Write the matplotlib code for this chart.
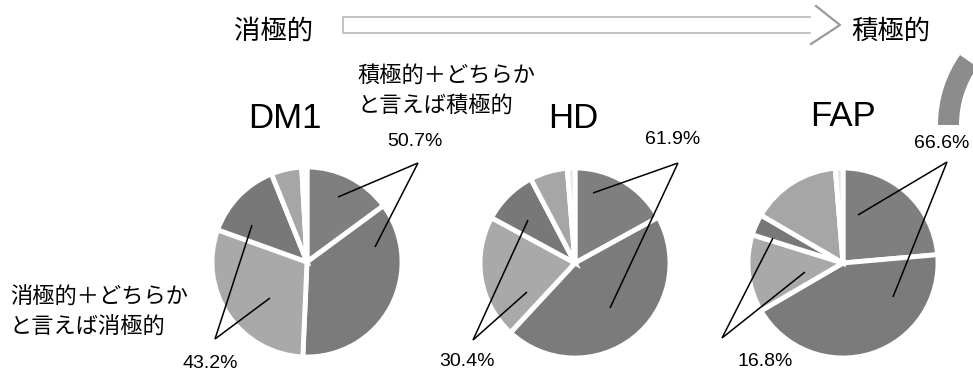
import matplotlib
matplotlib.use("Agg")
import matplotlib.pyplot as plt
from matplotlib.patches import Wedge

W, H = 973, 377

# 回答の内訳(%)  積極的 / どちらかと言えば積極的 / どちらかと言えば消極的 / 消極的 / どちらでもない / 無回答
groups = ['DM1', 'HD', 'FAP']
dm1 = [14.9, 35.8, 29.8, 13.4, 5.2, 0.9]
hd = [17.0, 44.9, 21.0, 9.4, 6.4, 1.3]
fap = [23.6, 43.0, 13.2, 3.6, 15.3, 1.3]
pos_pct = [50.7, 61.9, 66.6]
neg_pct = [43.2, 30.4, 16.8]

colors = ['#7f7f7f', '#7b7b7b', '#a9a9a9', '#787878', '#a6a6a6', '#e6e6e6']

# layout (pixel coords, y measured from top)
centers = [(307, 262), (575, 263), (843, 263)]
radius = 95
title_xy = [(285, 118), (573, 118), (843, 116)]
pos_label = [(415, 142), (673, 140), (942, 143)]
pos_apex = [(418, 163), (678, 163), (947, 162)]
pos_ends = [[(338, 197), (375, 247)], [(593, 193), (610, 308)], [(858, 215), (893, 297)]]
neg_label = [(210, 363), (467, 362), (765, 362)]
neg_apex = [(215, 339), (473, 340), (722, 338)]
neg_ends = [[(252, 225), (270, 298)], [(528, 220), (527, 292)], [(773, 238), (805, 272)]]

jp = ['Noto Sans CJK JP', 'DejaVu Sans']
lat = ['Liberation Sans', 'DejaVu Sans']


def p(x, y):
    return x, H - y


fig = plt.figure(figsize=(W / 100, H / 100), dpi=100)
ax = fig.add_axes([0, 0, 1, 1])

for i, vals in enumerate([dm1, hd, fap]):
    ax.pie(vals, colors=colors, startangle=90, counterclock=False,
           center=p(*centers[i]), radius=radius, frame=True,
           wedgeprops=dict(edgecolor='white', linewidth=3.5))
    ax.text(*p(*title_xy[i]), groups[i], fontsize=25, family=lat,
            ha='center', va='center')
    ax.text(*p(*pos_label[i]), f'{pos_pct[i]:.1f}%', fontsize=14, family=lat,
            ha='center', va='center')
    ax.text(*p(*neg_label[i]), f'{neg_pct[i]:.1f}%', fontsize=14, family=lat,
            ha='center', va='center')
    for apex, ends in [(pos_apex[i], pos_ends[i]), (neg_apex[i], neg_ends[i])]:
        for e in ends:
            ax.plot([p(*apex)[0], p(*e)[0]], [p(*apex)[1], p(*e)[1]],
                    color='black', lw=1.1, solid_capstyle='butt')

# 説明ラベル
ax.text(*p(357, 90), '積極的＋どちらか\nと言えば積極的', fontsize=16, family=jp,
        ha='left', va='center', linespacing=1.4)
ax.text(*p(10, 312), '消極的＋どちらか\nと言えば消極的', fontsize=16, family=jp,
        ha='left', va='center', linespacing=1.4)

# 上部の矢印
ax.text(*p(274, 31), '消極的', fontsize=19, family=jp, ha='center', va='center')
ax.text(*p(891, 31), '積極的', fontsize=19, family=jp, ha='center', va='center')
ax.plot([p(810, 17)[0], p(343, 17)[0], p(343, 33)[0], p(810, 33)[0]],
        [p(810, 17)[1], p(343, 17)[1], p(343, 33)[1], p(810, 33)[1]],
        color='#b8b8b8', lw=1.2)
ax.plot([p(816, 6)[0], p(840, 25)[0], p(811, 44)[0]],
        [p(816, 6)[1], p(840, 25)[1], p(811, 44)[1]],
        color='#9a9a9a', lw=1.6)

# 右上の弧
ax.add_patch(Wedge(p(1060, 125), 122, 145, 180, width=21,
                   facecolor='#8c8c8c', edgecolor='none'))

ax.set_xlim(0, W)
ax.set_ylim(0, H)
ax.set_aspect('equal')
ax.axis('off')

fig.savefig('out.png', dpi=100)
